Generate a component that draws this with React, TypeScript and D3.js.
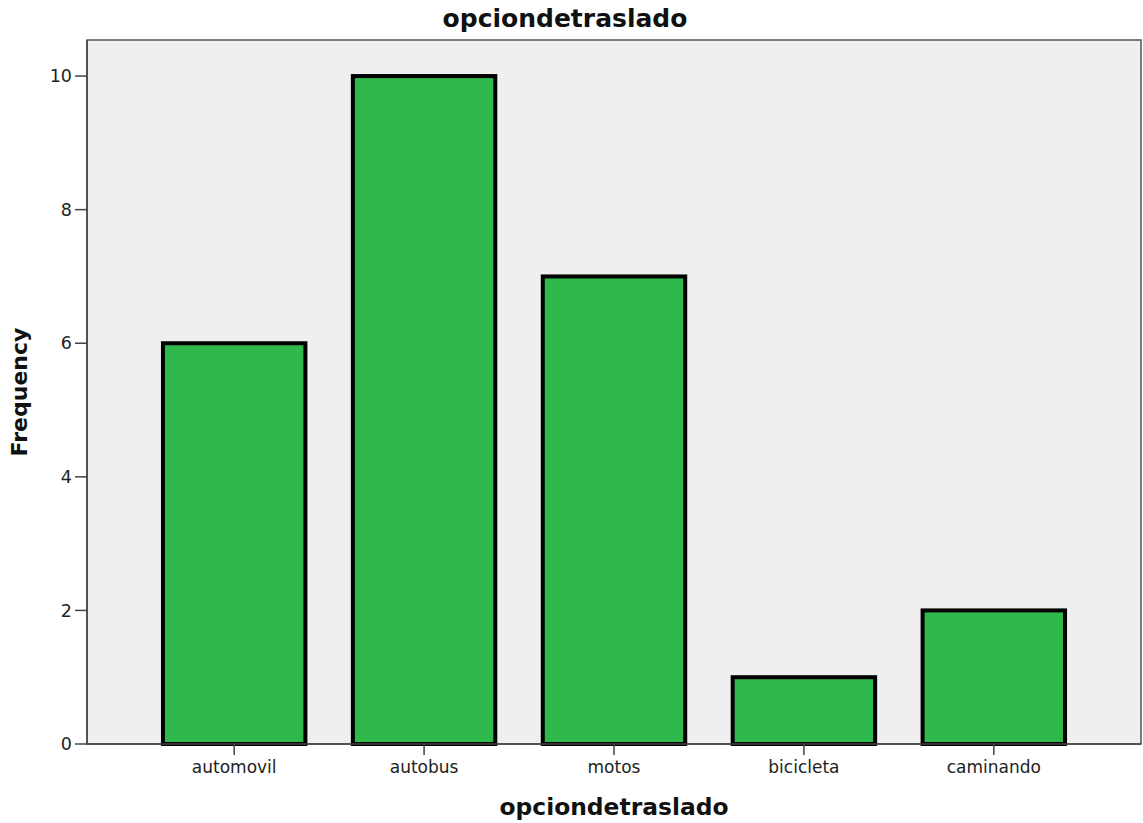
import * as React from 'react';
import * as d3 from 'd3';

const categories = ['automovil', 'autobus', 'motos', 'bicicleta', 'caminando'];
const frequencies = [6, 10, 7, 1, 2];
const yTicks = [0, 2, 4, 6, 8, 10];

const chartTitle = 'opciondetraslado';
const xTitle = 'opciondetraslado';
const yTitle = 'Frequency';

const W = 1143;
const H = 823;
const margin = { top: 40, right: 2, bottom: 79, left: 87 };

const font = '"DejaVu Sans", Verdana, sans-serif';

const App: React.FC = () => {
  const plotW = W - margin.left - margin.right;
  const plotH = H - margin.top - margin.bottom;

  const x = d3
    .scaleBand<string>()
    .domain(categories)
    .range([0, plotW])
    .paddingInner(0.25)
    .paddingOuter(0.4);

  const y = d3.scaleLinear().domain([0, 10.54]).range([plotH, 0]);

  const axisColor = '#444444';

  return (
    <div style={{ position: 'absolute', left: 0, top: 0 }}>
      <svg width={W} height={H} style={{ display: 'block', background: '#ffffff' }}>
        <text
          x={565}
          y={27}
          textAnchor="middle"
          fontFamily={font}
          fontWeight="bold"
          fontSize={25}
          fill="#111"
        >
          {chartTitle}
        </text>
        <g transform={`translate(${margin.left},${margin.top})`}>
          {/* plot background */}
          <rect x={0} y={0} width={plotW} height={plotH} fill="#efefef" stroke="#555" strokeWidth={1.5} />

          {/* bars */}
          {categories.map((c, i) => (
            <rect
              key={c}
              x={x(c)}
              y={y(frequencies[i])}
              width={x.bandwidth()}
              height={plotH - y(frequencies[i])}
              fill="#2fb84b"
              stroke="#000"
              strokeWidth={4}
            />
          ))}

          {/* y axis */}
          <line x1={0} x2={0} y1={0} y2={plotH} stroke={axisColor} strokeWidth={1.5} />
          {yTicks.map((t) => (
            <g key={t} transform={`translate(0,${y(t)})`}>
              <line x1={-12} x2={0} stroke={axisColor} strokeWidth={1.5} />
              <text
                x={-15}
                dy="0.35em"
                textAnchor="end"
                fontFamily={font}
                fontSize={17.5}
                fill="#222"
              >
                {t}
              </text>
            </g>
          ))}

          {/* x axis */}
          <line x1={0} x2={plotW} y1={plotH} y2={plotH} stroke={axisColor} strokeWidth={1.5} />
          {categories.map((c) => {
            const cx = (x(c) ?? 0) + x.bandwidth() / 2;
            return (
              <g key={c} transform={`translate(${cx},${plotH})`}>
                <line y1={0} y2={11} stroke={axisColor} strokeWidth={1.5} />
                <text
                  y={29}
                  textAnchor="middle"
                  fontFamily={font}
                  fontSize={17}
                  fill="#222"
                >
                  {c}
                </text>
              </g>
            );
          })}

          <text
            x={plotW / 2}
            y={plotH + 71}
            textAnchor="middle"
            fontFamily={font}
            fontWeight="bold"
            fontSize={23.4}
            fill="#111"
          >
            {xTitle}
          </text>
          <text
            transform={`translate(${-margin.left + 27},${plotH / 2}) rotate(-90)`}
            textAnchor="middle"
            fontFamily={font}
            fontWeight="bold"
            fontSize={22}
            fill="#111"
          >
            {yTitle}
          </text>
        </g>
      </svg>
    </div>
  );
};

export default App;
